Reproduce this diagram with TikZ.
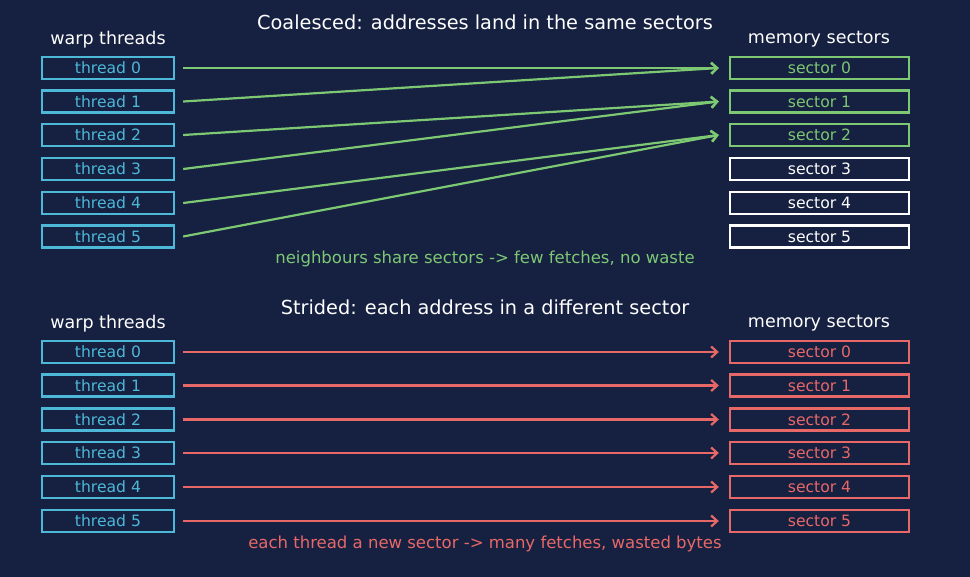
\documentclass[tikz,border=0pt]{standalone}
\usepackage{fontspec}
\setmainfont{DejaVu Sans}
\usetikzlibrary{arrows.meta}
\definecolor{bg}{HTML}{162040}
\definecolor{cyanc}{HTML}{4DB8D8}
\definecolor{greenc}{HTML}{7CC873}
\definecolor{redc}{HTML}{E86868}
\begin{document}
\begin{tikzpicture}[x=1pt,y=-1pt,
  thr/.style={draw=cyanc,line width=2.4pt,text=cyanc,minimum width=132pt,minimum height=22pt,inner sep=0pt,font=\fontsize{15.6}{15.6}\selectfont},
  secg/.style={draw=greenc,line width=2.4pt,text=greenc,minimum width=179pt,minimum height=22pt,inner sep=0pt,font=\fontsize{15.6}{15.6}\selectfont},
  secw/.style={secg,draw=white,text=white},
  secr/.style={secg,draw=redc,text=redc},
  hdr/.style={text=white,font=\fontsize{17.5}{17.5}\selectfont},
  ttl/.style={text=white,font=\fontsize{19.3}{19.3}\selectfont},
  note/.style={font=\fontsize{16.5}{16.5}\selectfont},
  garr/.style={draw=greenc,line width=2.2pt,-{Straight Barb[length=6pt,width=11pt,line width=2.2pt]}},
  rarr/.style={draw=redc,line width=2.2pt,-{Straight Barb[length=6pt,width=11pt,line width=2.2pt]}}
]
\fill[bg] (0,0) rectangle (970,577);
\useasboundingbox (0,0) rectangle (970,577);
% panel 1
\node[ttl] (t1) at (485,22) {Coalesced: addresses land in the same sectors};
\node[hdr] (w1) at (108,39.5) {warp threads};
\node[hdr] (m1) at (819,39.5) {memory sectors};
\foreach \i/\y in {0/68,1/101.5,2/135,3/169,4/203,5/236.5}{
  \node[thr] (a\i) at (108,\y) {thread \i};
}
\foreach \i/\y in {0/68,1/101.5,2/135}{
  \node[secg] (s\i) at (819.5,\y) {sector \i};
}
\foreach \i/\y in {3/169,4/203,5/236.5}{
  \node[secw] (s\i) at (819.5,\y) {sector \i};
}
\draw[garr] ([xshift=8pt]a0.east) -- ([xshift=-10pt]s0.west);
\draw[garr] ([xshift=8pt]a1.east) -- ([xshift=-10pt]s0.west);
\draw[garr] ([xshift=8pt]a2.east) -- ([xshift=-10pt]s1.west);
\draw[garr] ([xshift=8pt]a3.east) -- ([xshift=-10pt]s1.west);
\draw[garr] ([xshift=8pt]a4.east) -- ([xshift=-10pt]s2.west);
\draw[garr] ([xshift=8pt]a5.east) -- ([xshift=-10pt]s2.west);
\node[note,text=greenc] (n1) at (485,259) {neighbours share sectors -> few fetches, no waste};
% panel 2
\node[ttl] (t2) at (485,307) {Strided: each address in a different sector};
\node[hdr] (w2) at (108,323.5) {warp threads};
\node[hdr] (m2) at (819,323.5) {memory sectors};
\foreach \i/\y in {0/352,1/385.5,2/419.5,3/453,4/487,5/521}{
  \node[thr] (b\i) at (108,\y) {thread \i};
  \node[secr] (r\i) at (819.5,\y) {sector \i};
  \draw[rarr] ([xshift=8pt]b\i.east) -- ([xshift=-10pt]r\i.west);
}
\node[note,text=redc] (n2) at (485,544) {each thread a new sector -> many fetches, wasted bytes};
\end{tikzpicture}
\end{document}
